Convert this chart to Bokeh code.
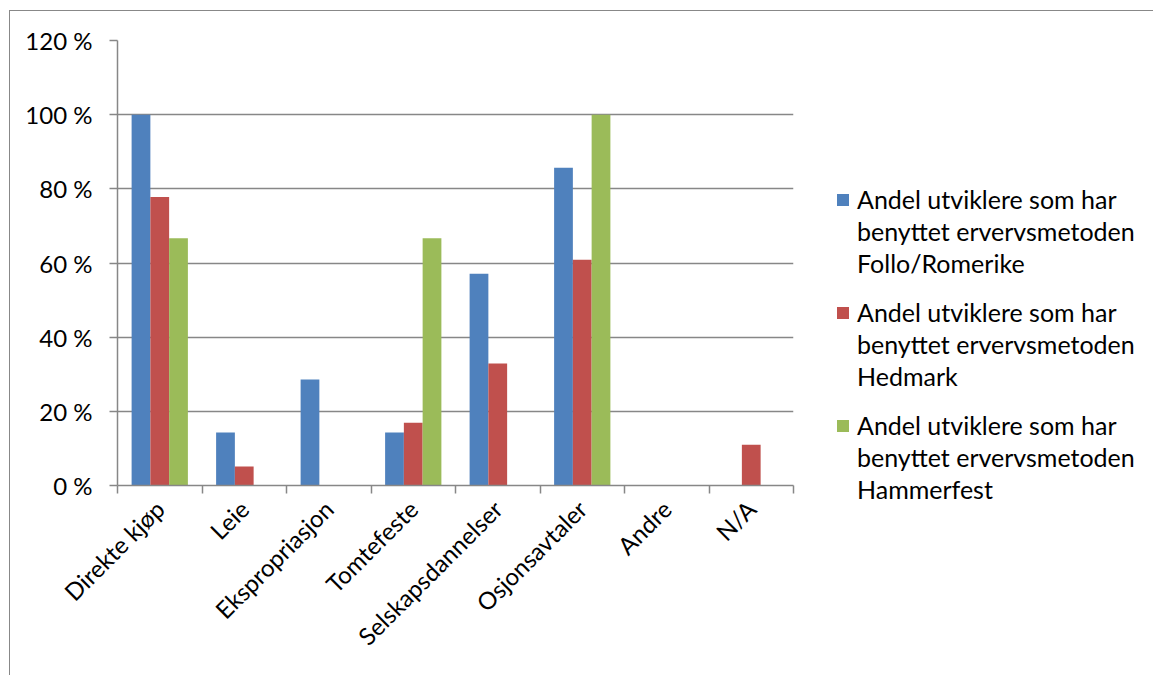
import numpy as np
from bokeh.plotting import figure
from bokeh.layouts import row, column
from bokeh.models import FixedTicker, Legend, LegendItem, Range1d
from bokeh.embed import file_html
from bokeh.resources import INLINE

categories = ["Direkte kjøp", "Leie", "Ekspropriasjon", "Tomtefeste",
              "Selskapsdannelser", "Osjonsavtaler", "Andre", "N/A"]
follo_romerike = [100.0, 14.3, 28.6, 14.3, 57.1, 85.7, 0.0, 0.0]
hedmark = [77.8, 5.1, 0.0, 16.9, 32.9, 60.9, 0.0, 11.0]
hammerfest = [66.7, 0.0, 0.0, 66.7, 0.0, 100.0, 0.0, 0.0]
series_label_lines = [
    ["Andel utviklere som har", "benyttet ervervsmetoden", "Follo/Romerike"],
    ["Andel utviklere som har", "benyttet ervervsmetoden", "Hedmark"],
    ["Andel utviklere som har", "benyttet ervervsmetoden", "Hammerfest"],
]
y_ticks = [0, 20, 40, 60, 80, 100, 120]
y_tick_labels = ["0 %", "20 %", "40 %", "60 %", "80 %", "100 %", "120 %"]

colors = ["#4F81BD", "#C0504D", "#9BBB59"]
FONT = "Lato"
GRAY = "#878787"

H = 664
W1 = 793
W2 = 1143 - W1
p = figure(width=W1, height=H, output_backend="svg", toolbar_location=None,
           x_range=Range1d(0, len(categories)), y_range=Range1d(0, 120),
           min_border_left=107, min_border_top=29,
           min_border_right=W1 - 107 - 676, min_border_bottom=H - 29 - 445)
p.outline_line_color = None
p.background_fill_color = "white"
p.border_fill_color = "white"

centers = np.arange(len(categories)) + 0.5
bw = 0.222
offsets = [-bw, 0.0, bw]
series = [follo_romerike, hedmark, hammerfest]
for vals, off, col in zip(series, offsets, colors):
    p.vbar(x=centers + off, top=vals, bottom=0, width=bw,
           fill_color=col, line_color=None)

# x axis
xa = p.xaxis[0]
xa.ticker = FixedTicker(ticks=list(centers), minor_ticks=list(range(len(categories) + 1)))
xa.major_label_overrides = {float(c): lab for c, lab in zip(centers, categories)}
xa.major_tick_out = 0
xa.major_tick_in = 0
xa.minor_tick_out = 8
xa.minor_tick_in = 0
xa.minor_tick_line_color = GRAY
xa.minor_tick_line_width = 1.5
xa.axis_line_color = GRAY
xa.axis_line_width = 1.5
xa.major_label_orientation = np.pi / 4
xa.major_label_text_font = FONT
xa.major_label_text_font_size = "24px"
xa.major_label_text_color = "black"
xa.major_label_standoff = 11

ya = p.yaxis[0]
ya.ticker = FixedTicker(ticks=y_ticks)
ya.major_label_overrides = {t: lab for t, lab in zip(y_ticks, y_tick_labels)}
ya.major_tick_out = 8
ya.major_tick_in = 0
ya.minor_tick_out = 0
ya.minor_tick_in = 0
ya.major_tick_line_color = GRAY
ya.major_tick_line_width = 1.5
ya.axis_line_color = GRAY
ya.axis_line_width = 1.5
ya.major_label_text_font = FONT
ya.major_label_text_font_size = "24px"
ya.major_label_text_color = "black"
ya.major_label_standoff = 17

p.xgrid.grid_line_color = None
p.ygrid.ticker = FixedTicker(ticks=y_ticks)
p.ygrid.grid_line_color = GRAY
p.ygrid.grid_line_width = 1.5

# legend area: a second figure without axes; its ranges keep its own copies
# of the bars out of view, they only serve as legend glyphs
p2 = figure(width=W2, height=H, output_backend="svg", toolbar_location=None,
            x_range=Range1d(-2, -1), y_range=Range1d(-2, -1),
            min_border=0, x_axis_type=None, y_axis_type=None)
p2.outline_line_color = None
p2.xgrid.grid_line_color = None
p2.ygrid.grid_line_color = None
p2.background_fill_color = "white"
p2.border_fill_color = "white"
leg_renderers = [p2.vbar(x=centers + off, top=vals, bottom=0, width=bw, fill_color=c, line_color=None)
                 for vals, off, c in zip(series, offsets, colors)]
blank = p2.vbar(x=centers, top=follo_romerike, bottom=0, width=bw,
                fill_alpha=0, line_color=None)

ROW_H = 32
for g, (lines, rend) in enumerate(zip(series_label_lines, leg_renderers)):
    items = [LegendItem(label=lines[0], renderers=[rend])]
    items += [LegendItem(label=t, renderers=[blank]) for t in lines[1:]]
    leg = Legend(items=items, location=(32, int(round(395.5 - 112.5 * g))))
    leg.label_text_font = FONT
    leg.label_text_font_size = "25px"
    leg.label_text_color = "black"
    leg.label_height = ROW_H
    leg.glyph_width = 15
    leg.glyph_height = 15
    leg.label_standoff = 7
    leg.spacing = 0
    leg.padding = 0
    leg.margin = 0
    leg.border_line_color = None
    leg.background_fill_alpha = 0
    p2.add_layout(leg, "center")

layout = row(column(p), column(p2), spacing=0)
layout.margin = (10, 0, 0, 9)
layout.styles = {"border-left": "1px solid #888888", "border-top": "1px solid #888888"}

open("out.html", "w").write(file_html(layout, INLINE))
